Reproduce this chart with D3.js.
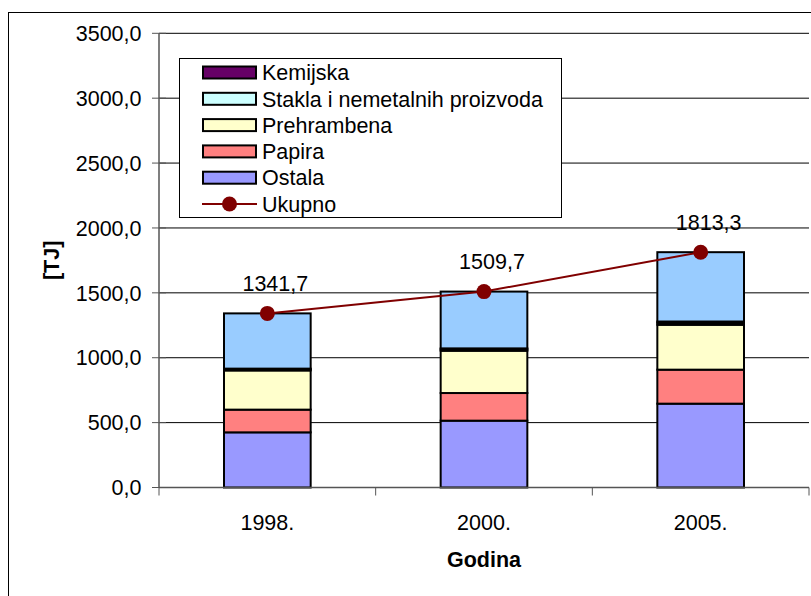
<!DOCTYPE html>
<html>
<head>
<meta charset="utf-8">
<script src="https://cdn.jsdelivr.net/npm/d3@7"></script>
<style>
  body { margin: 0; background: #fff; }
  svg text { font-family: "Liberation Sans", Arial, sans-serif; fill: #000; }
</style>
</head>
<body>
<svg id="chart" width="811" height="596"></svg>
<script>
var godine = ['1998.', '2000.', '2005.'];
var ostala = [425, 515, 646];
var papira = [175, 213, 262];
var prehrambena = [302, 326, 346];
var stakla = [8, 10, 15];
var kemijska = [6, 8, 10];
var ostatak = [425.7, 437.7, 534.3];
var ukupno = [1341.7, 1509.7, 1813.3];
var yTicks = [0, 500, 1000, 1500, 2000, 2500, 3000, 3500];

var serije = [
  { name: 'Ostala', values: ostala, color: '#9999ff' },
  { name: 'Papira', values: papira, color: '#ff8080' },
  { name: 'Prehrambena', values: prehrambena, color: '#ffffcc' },
  { name: 'Stakla i nemetalnih proizvoda', values: stakla, color: '#ccffff' },
  { name: 'Kemijska', values: kemijska, color: '#660066' },
  { name: null, values: ostatak, color: '#99ccff' }
];

var svg = d3.select('#chart'),
    plotLeft = 159, plotRight = 809, plotTop = 33.3, plotBottom = 487.5,
    fontSize = 21.5;

var fmt = function (v) { return d3.format('.1f')(v).replace('.', ','); };

// chart border (right/bottom run off the picture)
svg.append('rect')
  .attr('x', 8.5).attr('y', 12.5)
  .attr('width', 900).attr('height', 700)
  .attr('fill', '#fff').attr('stroke', '#000').attr('stroke-width', 1);

var x = d3.scaleBand().domain(godine).range([plotLeft, plotRight]).paddingInner(0.6).paddingOuter(0.3);
var xCat = d3.scaleBand().domain(godine).range([plotLeft, plotRight]);
var y = d3.scaleLinear().domain([0, 3500]).range([plotBottom, plotTop]);

// gridlines
svg.append('g').selectAll('line')
  .data(yTicks.filter(function (d) { return d > 0; }))
  .enter().append('line')
  .attr('x1', plotLeft).attr('x2', plotRight)
  .attr('y1', function (d) { return y(d); })
  .attr('y2', function (d) { return y(d); })
  .attr('stroke', '#000').attr('stroke-width', 1);

// stacked bars
var stackData = godine.map(function (g, i) {
  var row = { godina: g };
  serije.forEach(function (s, k) { row['s' + k] = s.values[i]; });
  return row;
});
var stack = d3.stack().keys(serije.map(function (s, k) { return 's' + k; }));
var layers = stack(stackData);

svg.append('g').selectAll('g')
  .data(layers)
  .enter().append('g')
  .attr('fill', function (d, k) { return serije[k].color; })
  .selectAll('rect')
  .data(function (d) { return d; })
  .enter().append('rect')
  .attr('x', function (d) { return x(d.data.godina); })
  .attr('width', x.bandwidth())
  .attr('y', function (d) { return y(d[1]); })
  .attr('height', function (d) { return y(d[0]) - y(d[1]); })
  .attr('stroke', '#000').attr('stroke-width', 2);

// axes
var yAxis = svg.append('g');
yAxis.append('line')
  .attr('x1', plotLeft).attr('x2', plotLeft).attr('y1', plotTop).attr('y2', plotBottom)
  .attr('stroke', '#555').attr('stroke-width', 1.5);
yAxis.selectAll('.tick')
  .data(yTicks)
  .enter().append('line')
  .attr('x1', plotLeft - 7).attr('x2', plotLeft + 7)
  .attr('y1', function (d) { return y(d); })
  .attr('y2', function (d) { return y(d); })
  .attr('stroke', '#555').attr('stroke-width', 1);
yAxis.selectAll('text')
  .data(yTicks)
  .enter().append('text')
  .attr('x', 141.5)
  .attr('y', function (d) { return y(d); })
  .attr('dy', '0.36em')
  .attr('text-anchor', 'end')
  .style('font-size', fontSize + 'px')
  .text(fmt);

var xAxis = svg.append('g');
xAxis.append('line')
  .attr('x1', plotLeft).attr('x2', plotRight).attr('y1', plotBottom).attr('y2', plotBottom)
  .attr('stroke', '#555').attr('stroke-width', 1.5);
xAxis.selectAll('.tick')
  .data(godine.concat(['end']))
  .enter().append('line')
  .attr('x1', function (d) { return d === 'end' ? plotRight : xCat(d); })
  .attr('x2', function (d) { return d === 'end' ? plotRight : xCat(d); })
  .attr('y1', plotBottom).attr('y2', plotBottom + 8)
  .attr('stroke', '#555').attr('stroke-width', 1);
xAxis.selectAll('text')
  .data(godine)
  .enter().append('text')
  .attr('x', function (d) { return xCat(d) + xCat.bandwidth() / 2; })
  .attr('y', 530)
  .attr('text-anchor', 'middle')
  .style('font-size', fontSize + 'px')
  .text(function (d) { return d; });

// axis titles
svg.append('text')
  .attr('x', (plotLeft + plotRight) / 2).attr('y', 567)
  .attr('text-anchor', 'middle')
  .style('font-size', fontSize + 'px').style('font-weight', 'bold')
  .text('Godina');
svg.append('text')
  .attr('transform', 'translate(59,' + (plotTop + plotBottom) / 2 + ') rotate(-90)')
  .attr('text-anchor', 'middle')
  .style('font-size', fontSize + 'px').style('font-weight', 'bold')
  .text('[TJ]');

// Ukupno line
var cx = function (i) { return xCat(godine[i]) + xCat.bandwidth() / 2; };
var line = d3.line()
  .x(function (d, i) { return cx(i); })
  .y(function (d) { return y(d); });
svg.append('path')
  .datum(ukupno)
  .attr('d', line)
  .attr('fill', 'none').attr('stroke', '#800000').attr('stroke-width', 2);
svg.append('g').selectAll('circle')
  .data(ukupno)
  .enter().append('circle')
  .attr('cx', function (d, i) { return cx(i); })
  .attr('cy', function (d) { return y(d); })
  .attr('r', 7.5)
  .attr('fill', '#800000');
svg.append('g').selectAll('text')
  .data(ukupno)
  .enter().append('text')
  .attr('x', function (d, i) { return cx(i) + 8; })
  .attr('y', function (d) { return y(d) - 22.5; })
  .attr('text-anchor', 'middle')
  .style('font-size', fontSize + 'px')
  .text(fmt);

// legend
var legendItems = serije.filter(function (s) { return s.name; }).slice().reverse();
var legend = svg.append('g');
legend.append('rect')
  .attr('x', 179.5).attr('y', 58.5)
  .attr('width', 382).attr('height', 159)
  .attr('fill', '#fff').attr('stroke', '#000').attr('stroke-width', 1);
var rowY = function (i) { return 72.5 + i * 26.3; };
legendItems.forEach(function (s, i) {
  legend.append('rect')
    .attr('x', 203).attr('y', rowY(i) - 6)
    .attr('width', 53).attr('height', 12)
    .attr('fill', s.color).attr('stroke', '#000').attr('stroke-width', 2);
  legend.append('text')
    .attr('x', 262).attr('y', rowY(i)).attr('dy', '0.36em')
    .style('font-size', fontSize + 'px')
    .text(s.name);
});
var ly = rowY(legendItems.length);
legend.append('line')
  .attr('x1', 202).attr('x2', 257).attr('y1', ly).attr('y2', ly)
  .attr('stroke', '#800000').attr('stroke-width', 2);
legend.append('circle')
  .attr('cx', 229.5).attr('cy', ly).attr('r', 7.5).attr('fill', '#800000');
legend.append('text')
  .attr('x', 262).attr('y', ly).attr('dy', '0.36em')
  .style('font-size', fontSize + 'px')
  .text('Ukupno');
</script>
</body>
</html>
